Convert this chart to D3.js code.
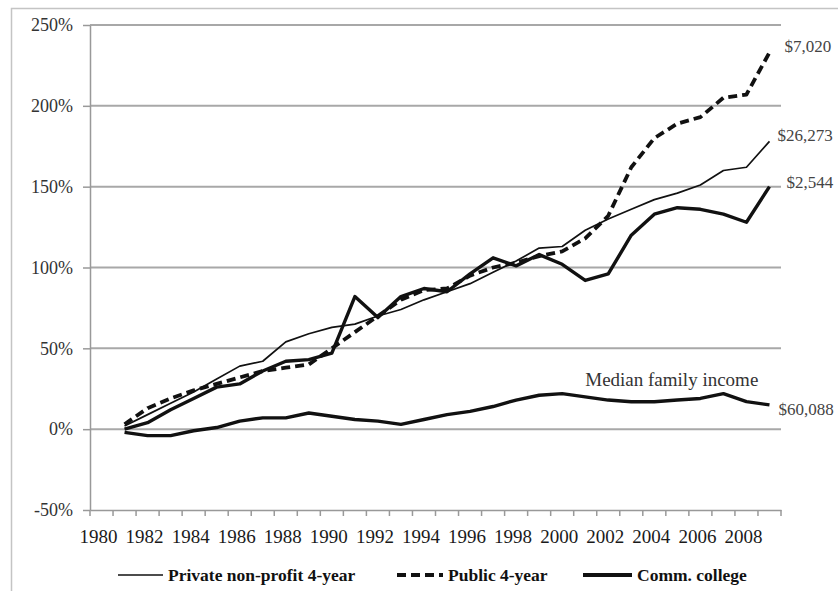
<!DOCTYPE html>
<html>
<head>
<meta charset="utf-8">
<script src="https://cdn.jsdelivr.net/npm/d3@7/dist/d3.min.js"></script>
<style>
    body { margin: 0; background: #fff; overflow: hidden; }
    svg { display: block; font-family: "Liberation Serif", "Times New Roman", serif; }
</style>
</head>
<body>
<svg id="chart" width="838" height="591"></svg>
<script>
// Data (percent change since 1981)
const axisYears = [1980, 1981, 1982, 1983, 1984, 1985, 1986, 1987, 1988, 1989,
    1990, 1991, 1992, 1993, 1994, 1995, 1996, 1997, 1998, 1999,
    2000, 2001, 2002, 2003, 2004, 2005, 2006, 2007, 2008, 2009];
const dataYears = [1981, 1982, 1983, 1984, 1985, 1986, 1987, 1988, 1989,
    1990, 1991, 1992, 1993, 1994, 1995, 1996, 1997, 1998, 1999,
    2000, 2001, 2002, 2003, 2004, 2005, 2006, 2007, 2008, 2009];
const xTickLabels = [1980, 1982, 1984, 1986, 1988, 1990, 1992, 1994, 1996, 1998, 2000, 2002, 2004, 2006, 2008];
const yTicks = [-50, 0, 50, 100, 150, 200, 250];

const privateValues = [2, 9, 16, 23, 31, 39, 42, 54, 59, 63, 65, 70, 74, 80, 85, 90, 97, 104, 112,
    113, 123, 130, 136, 142, 146, 151, 160, 162, 178];
const publicValues = [3, 13, 19, 24, 28, 32, 36, 38, 40, 50, 60, 70, 80, 86, 87, 95, 100, 103, 107,
    110, 118, 132, 162, 180, 189, 193, 205, 207, 233];
const commValues = [0, 4, 12, 19, 26, 28, 36, 42, 43, 47, 82, 69, 82, 87, 85, 96, 106, 101, 108,
    102, 92, 96, 120, 133, 137, 136, 133, 128, 150];
const incomeValues = [-2, -4, -4, -1, 1, 5, 7, 7, 10, 8, 6, 5, 3, 6, 9, 11, 14, 18, 21,
    22, 20, 18, 17, 17, 18, 19, 22, 17, 15];

const seriesNames = ["Private non-profit 4-year", "Public 4-year", "Comm. college", "Median family income"];
const endLabels = ["$26,273", "$7,020", "$2,544", "$60,088"];

// General Variables
const margin = { top: 25, right: 57, left: 90, bottom: 81 };
let chart = d3.select("#chart");
const chart_width = 838, chart_height = 591;
const innerWidth = chart_width - margin.left - margin.right;
const innerHeight = chart_height - margin.top - margin.bottom;

// outer frame (only top and left edges fall inside the picture)
chart.append("path")
    .attr("d", "M11.5," + chart_height + "V8.5H" + chart_width)
    .attr("fill", "none").attr("stroke", "#c4c4c4").attr("stroke-width", 1.5);

let x = d3.scaleBand().domain(axisYears).range([0, innerWidth]);
let y = d3.scaleLinear().domain([-50, 250]).range([innerHeight, 0]);
const cx = yr => x(yr) + x.bandwidth() / 2;

const g = chart.append("g")
    .attr("transform", "translate(" + margin.left + "," + margin.top + ")");

// gridlines
g.selectAll(".grid")
    .data(yTicks.filter(d => d > -50))
    .enter().append("line")
    .attr("x1", 0).attr("x2", innerWidth)
    .attr("y1", d => y(d)).attr("y2", d => y(d))
    .attr("stroke", "#a8a8a8").attr("stroke-width", 2);

// Y Axis
const yAxis = g.append("g")
    .call(d3.axisLeft(y).tickValues(yTicks).tickFormat(d => d + "%").tickSize(7).tickSizeOuter(0).tickPadding(10));
yAxis.select(".domain").attr("stroke", "#999").attr("stroke-width", 1.5);
yAxis.selectAll(".tick line").attr("stroke", "#999").attr("stroke-width", 1.5);
yAxis.selectAll("text")
    .attr("fill", "#333")
    .attr("font-size", 18)
    .attr("font-family", "Liberation Serif, serif");

// X Axis
const xAxis = g.append("g")
    .attr("transform", "translate(0," + innerHeight + ")")
    .call(d3.axisBottom(x).tickValues(xTickLabels).tickSize(0).tickSizeOuter(0).tickPadding(20));
xAxis.select(".domain").attr("stroke", "#999").attr("stroke-width", 1.5);
xAxis.selectAll("text")
    .attr("fill", "#1a1a1a")
    .attr("dx", "-3")
    .attr("font-size", 19)
    .attr("font-family", "Liberation Serif, serif");

// tick marks at category boundaries
g.selectAll(".xtick")
    .data(axisYears.map(d => x(d)).concat([innerWidth]))
    .enter().append("line")
    .attr("x1", d => d).attr("x2", d => d)
    .attr("y1", innerHeight).attr("y2", innerHeight + 6)
    .attr("stroke", "#999").attr("stroke-width", 1.5);

// series
const series = [
    { name: seriesNames[0], values: privateValues, width: 1.7, dash: null, label: endLabels[0], dx: 8, dy: -6 },
    { name: seriesNames[1], values: publicValues, width: 3.8, dash: "9,5", label: endLabels[1], dx: 15, dy: -6 },
    { name: seriesNames[2], values: commValues, width: 3.4, dash: null, label: endLabels[2], dx: 17, dy: -5 },
    { name: seriesNames[3], values: incomeValues, width: 3.4, dash: null, label: endLabels[3], dx: 9, dy: 4 }
];

const line = d3.line()
    .x((d, i) => cx(dataYears[i]))
    .y(d => y(d));

series.forEach(s => {
    g.append("path")
        .datum(s.values)
        .attr("d", line)
        .attr("fill", "none")
        .attr("stroke", "#111")
        .attr("stroke-width", s.width)
        .attr("stroke-linejoin", "round")
        .attr("stroke-dasharray", s.dash);

    const last = s.values[s.values.length - 1];
    g.append("text")
        .attr("x", cx(dataYears[dataYears.length - 1]) + s.dx)
        .attr("y", y(last) + s.dy)
        .attr("dy", "0.35em")
        .attr("fill", "#444")
        .style("font-size", "17px")
        .text(s.label);
});

// Median family income annotation
g.append("text")
    .attr("x", cx(2002) - 23)
    .attr("y", y(31))
    .attr("dy", "0.35em")
    .attr("fill", "#333")
    .style("font-size", "19px")
    .text(seriesNames[3]);

// Add Legend
const legend = chart.append("g").attr("transform", "translate(0,575)");
const legendItems = [
    { x: 118, w: 45, width: 1.7, dash: null, text: seriesNames[0] },
    { x: 397, w: 46, width: 3.8, dash: "9,5", text: seriesNames[1] },
    { x: 583, w: 49, width: 4, dash: null, text: seriesNames[2] }
];
legendItems.forEach(d => {
    legend.append("line")
        .attr("x1", d.x).attr("x2", d.x + d.w)
        .attr("y1", 0).attr("y2", 0)
        .attr("stroke", "#111").attr("stroke-width", d.width)
        .attr("stroke-dasharray", d.dash);
    legend.append("text")
        .attr("x", d.x + d.w + 5)
        .attr("y", 0)
        .attr("dy", "0.35em")
        .attr("fill", "#111")
        .style("font-size", "17.5px")
        .style("font-weight", "bold")
        .text(d.text);
});
</script>
</body>
</html>
